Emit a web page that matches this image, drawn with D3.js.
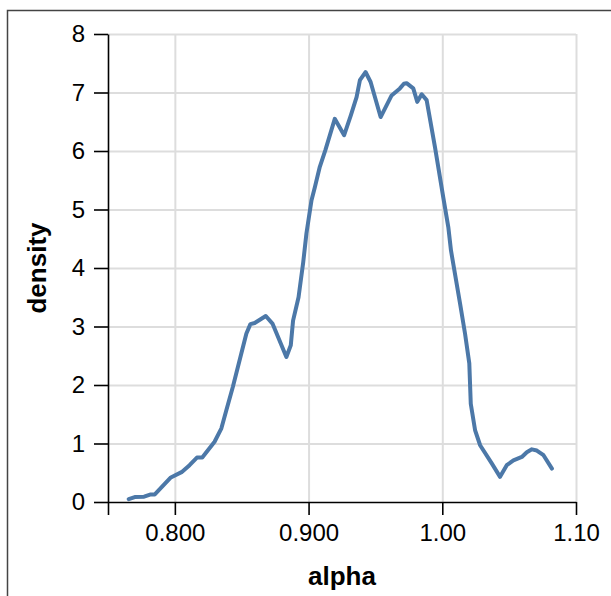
<!DOCTYPE html>
<html>
<head>
<meta charset="utf-8">
<script src="https://cdn.jsdelivr.net/npm/d3@7"></script>
<style>
  body { margin: 0; background: #fff; }
  svg { display: block; font-family: "Liberation Sans", Arial, Helvetica, sans-serif; }
  .grid line { stroke: #ddd; stroke-width: 2; }
  .grid .domain { display: none; }
  .axis path, .axis line { stroke: #000; stroke-width: 1.6; }
  .axis text { fill: #000; font-size: 24px; }
</style>
</head>
<body>
<svg id="chart" width="611" height="596"></svg>
<script>
// density estimate of alpha
const alpha = [
  0.7655, 0.770, 0.777, 0.782, 0.785, 0.797, 0.805, 0.811, 0.8165, 0.8205,
  0.8297, 0.8348, 0.8385, 0.8434, 0.8497, 0.8535, 0.8565, 0.8597, 0.868, 0.873,
  0.8834, 0.8867, 0.8884, 0.8925, 0.896, 0.8984, 0.9022, 0.9047, 0.9084, 0.9125,
  0.9196, 0.9266, 0.9316, 0.9359, 0.9384, 0.9426, 0.9464, 0.9539, 0.9621, 0.9683,
  0.9713, 0.9733, 0.9783, 0.9813, 0.9846, 0.9883, 0.9945, 1.0008, 1.0045, 1.0065,
  1.0133, 1.017, 1.0202, 1.0213, 1.0245, 1.0283, 1.037, 1.0432, 1.0482, 1.0532,
  1.0595, 1.0632, 1.067, 1.0707, 1.0757, 1.082
];
const density = [
  0.05, 0.085, 0.09, 0.13, 0.13, 0.42, 0.51, 0.63, 0.76, 0.76,
  1.03, 1.26, 1.57, 1.97, 2.54, 2.88, 3.04, 3.06, 3.18, 3.05,
  2.48, 2.68, 3.10, 3.50, 4.10, 4.59, 5.16, 5.38, 5.73, 6.01,
  6.55, 6.27, 6.61, 6.92, 7.21, 7.35, 7.18, 6.58, 6.95, 7.07,
  7.15, 7.16, 7.07, 6.84, 6.97, 6.87, 6.07, 5.20, 4.70, 4.30,
  3.39, 2.88, 2.37, 1.68, 1.23, 0.97, 0.66, 0.43, 0.63, 0.71,
  0.77, 0.85, 0.90, 0.88, 0.80, 0.57
];
const xTicks = [0.75, 0.8, 0.9, 1.0, 1.1];
const xTickLabels = ["", "0.800", "0.900", "1.00", "1.10"];
const yTicks = [0, 1, 2, 3, 4, 5, 6, 7, 8];

const svg = d3.select("#chart");
const margin = { left: 108, right: 35, top: 34, bottom: 94 };
const width = 611, height = 596;

// outer frame (runs off the right and bottom edges)
svg.append("rect")
  .attr("x", 7.5).attr("y", 10.5)
  .attr("width", 640).attr("height", 640)
  .attr("fill", "none")
  .attr("stroke", "#444")
  .attr("stroke-width", 1.5);

const x = d3.scaleLinear().domain([0.75, 1.1]).range([margin.left, width - margin.right]);
const y = d3.scaleLinear().domain([0, 8]).range([height - margin.bottom, margin.top]);

// grid
svg.append("g").classed("grid", true)
  .attr("transform", `translate(0,${margin.top})`)
  .call(d3.axisBottom(x).tickValues(xTicks.slice(1))
    .tickSize(y(0) - margin.top).tickFormat(""));
svg.append("g").classed("grid", true)
  .attr("transform", `translate(${margin.left},0)`)
  .call(d3.axisRight(y).tickValues(yTicks.slice(1))
    .tickSize(x.range()[1] - margin.left).tickFormat(""));

// axes
const xAxis = d3.axisBottom(x)
  .tickValues(xTicks)
  .tickSize(13)
  .tickSizeOuter(0)
  .tickPadding(9)
  .tickFormat((d, i) => xTickLabels[i]);
svg.append("g").classed("axis", true)
  .attr("transform", `translate(0,${y(0)})`)
  .call(xAxis);

const yAxis = d3.axisLeft(y)
  .tickValues(yTicks)
  .tickSize(14)
  .tickSizeOuter(0)
  .tickPadding(9)
  .tickFormat(d3.format("d"));
svg.append("g").classed("axis", true)
  .attr("transform", `translate(${margin.left},0)`)
  .call(yAxis);

// density line
const pts = alpha.map((a, i) => [a, density[i]]);
svg.append("path")
  .datum(pts)
  .attr("fill", "none")
  .attr("stroke", "#4c78a8")
  .attr("stroke-width", 4)
  .attr("stroke-linejoin", "round")
  .attr("stroke-linecap", "round")
  .attr("d", d3.line().x(d => x(d[0])).y(d => y(d[1])));

// titles
svg.append("text")
  .attr("x", (x.range()[0] + x.range()[1]) / 2)
  .attr("y", 585)
  .attr("text-anchor", "middle")
  .attr("font-size", 26)
  .attr("font-weight", "bold")
  .text("alpha");

svg.append("text")
  .attr("transform", `translate(46,${(y(0) + y(8)) / 2}) rotate(-90)`)
  .attr("text-anchor", "middle")
  .attr("font-size", 26)
  .attr("font-weight", "bold")
  .text("density");
</script>
</body>
</html>
